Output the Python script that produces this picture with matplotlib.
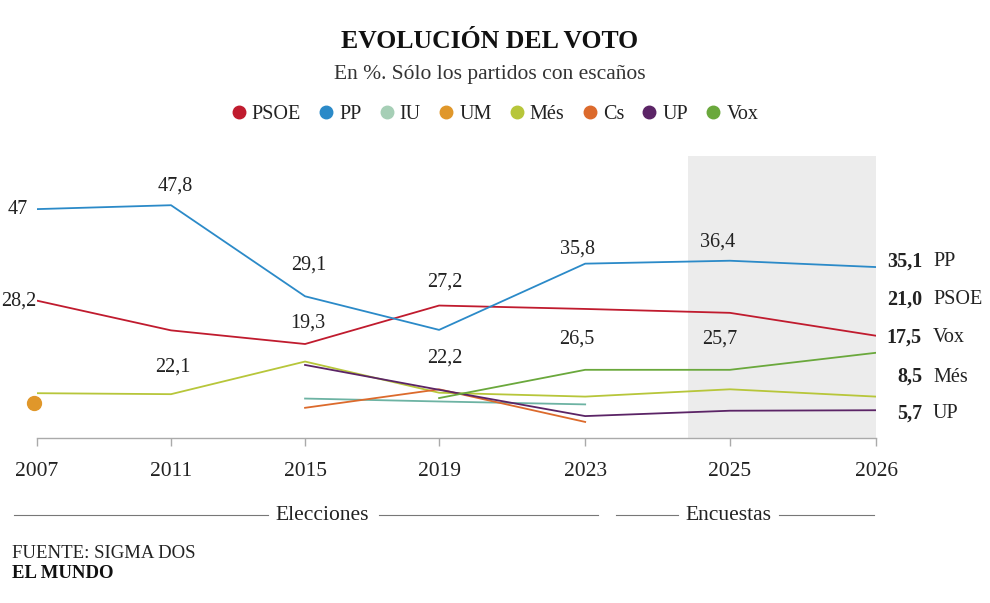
import numpy as np
import matplotlib
matplotlib.use('Agg')
from matplotlib import pyplot as plt
from matplotlib.lines import Line2D

plt.rcParams['font.family'] = ['Liberation Serif', 'DejaVu Serif']

# ---- data ----------------------------------------------------------------
years = ['2007', '2011', '2015', '2019', '2023', '2025', '2026']
nan = np.nan
psoe = [28.2, 22.1, 19.3, 27.2, 26.5, 25.7, 21.0]
pp   = [47.0, 47.8, 29.1, 22.2, 35.8, 36.4, 35.1]
iu   = [nan, nan, 8.1, 7.5, 6.9, nan, nan]
um   = [7.2, nan, nan, nan, nan, nan, nan]
mes  = [9.2, 9.0, 15.7, 9.3, 8.5, 10.0, 8.5]
cs   = [nan, nan, 6.2, 10.0, 3.3, nan, nan]
up   = [nan, nan, 15.0, 9.9, 4.5, 5.6, 5.7]
vox  = [nan, nan, nan, 8.2, 14.0, 14.0, 17.5]

parties = ['PSOE', 'PP', 'IU', 'UM', 'Més', 'Cs', 'UP', 'Vox']
series = [psoe, pp, iu, um, mes, cs, up, vox]
colors = ['#c01b2e', '#2b8ac8', '#a6cfb6', '#e0972a', '#b7c63a', '#dc6a2c', '#5b2466', '#6aa83c']
line_colors = ['#c01b2e', '#2b8ac8', '#6db3a3', '#e0972a', '#b7c63a', '#dc6a2c', '#5b2466', '#6aa83c']

# value labels shown inside the chart: (series, year index)
labelled = [('PP', 0), ('PP', 1), ('PP', 2), ('PSOE', 0), ('PSOE', 2), ('PSOE', 1),
            ('PSOE', 3), ('PP', 3), ('PP', 4), ('PSOE', 4), ('PP', 5), ('PSOE', 5)]
# final values listed at the right, top to bottom
end_parties = ['PP', 'PSOE', 'Vox', 'Més', 'UP']

# ---- layout --------------------------------------------------------------
W, H = 990, 603
xpos = [0, 1, 2, 3, 4.09, 5.17, 6.26]
label_offsets = [(-9, 0, 'right'), (4, 19, 'center'), (4, 31, 'center'),
                 (-1, 0, 'right'), (3, 21, 'center'), (2, -37, 'center'),
                 (6, 23, 'center'), (6, -28, 'center'), (-8, 15, 'center'),
                 (-8, -30, 'center'), (-12, 19, 'center'), (-10, -26, 'center')]
end_y_px = [262, 300, 338, 377, 414]
txt = '#222222'

fig = plt.figure(figsize=(W / 100, H / 100), dpi=100)
ax = fig.add_axes([37 / W, 1 - 438 / H, 839 / W, 282 / H])
ax.set_xlim(0, 6.26)
ax.set_ylim(0, 282 / 4.87)

# shaded band for the poll period
ax.axvspan(4.86, 6.26, color='#ececec', zorder=0, lw=0)

for name, vals, c in zip(parties, series, line_colors):
    if name == 'UM':
        ax.plot(xpos[0] - 0.02, vals[0], 'o', color=c, markersize=10, clip_on=False, zorder=3)
        continue
    ax.plot(xpos, vals, color=c, lw=1.3, zorder=2)

lookup = dict(zip(parties, series))
for (name, i), (dx, dy, ha) in zip(labelled, label_offsets):
    v = lookup[name][i]
    s = ('%g' % v).replace('.', ',')
    ax.annotate(s, xy=(xpos[i], v), xytext=(dx, dy), textcoords='offset pixels',
                ha=ha, va='center', fontsize=14.5, color=txt)

for spine in ['top', 'left', 'right']:
    ax.spines[spine].set_visible(False)
ax.spines['bottom'].set_color('#aaaaaa')
ax.spines['bottom'].set_linewidth(1)
ax.set_yticks([])
ax.set_xticks(xpos)
ax.set_xticklabels(years)
ax.tick_params(axis='x', direction='out', length=6, color='#aaaaaa', width=1,
               labelsize=15.5, labelcolor=txt, pad=11)

# right-hand end labels
for name, ypx in zip(end_parties, end_y_px):
    v = lookup[name][-1]
    fig.text(922 / W, 1 - ypx / H, ('%.1f' % v).replace('.', ','),
             ha='right', va='center', fontsize=14.5, fontweight='bold', color=txt)
    fig.text(933 / W, 1 - ypx / H, name, ha='left', va='center', fontsize=14.5, color=txt)

# title, subtitle and legend
fig.text(0.495, 1 - 42 / H, 'EVOLUCIÓN DEL VOTO', ha='center', va='center',
         fontsize=18.5, fontweight='bold', color='#111111')
fig.text(0.495, 1 - 75 / H, 'En %. Sólo los partidos con escaños', ha='center',
         va='center', fontsize=15.5, color='#333333')
handles = [Line2D([], [], marker='o', ls='none', color=c, markersize=9) for c in colors]
fig.legend(handles, parties, loc='center', bbox_to_anchor=(0.5, 1 - 114 / H), ncol=8,
           frameon=False, fontsize=14.5, handlelength=0.7, handletextpad=0.3,
           columnspacing=0.9, labelcolor=txt)

# period brackets under the axis
yb = 1 - 515 / H
for x0, x1 in [(14, 268), (379, 598), (616, 678), (779, 874)]:
    fig.add_artist(Line2D([x0 / W, x1 / W], [yb, yb], transform=fig.transFigure,
                          color='#777777', lw=0.8))
fig.text(322 / W, yb, 'Elecciones', ha='center', va='center', fontsize=15.5, color=txt)
fig.text(728 / W, yb, 'Encuestas', ha='center', va='center', fontsize=15.5, color=txt)

fig.text(12 / W, 1 - 553 / H, 'FUENTE: SIGMA DOS', ha='left', va='center', fontsize=13.5, color=txt)
fig.text(12 / W, 1 - 573 / H, 'EL MUNDO', ha='left', va='center', fontsize=13.5,
         fontweight='bold', color='#111111')

fig.savefig('out.png', dpi=100)
